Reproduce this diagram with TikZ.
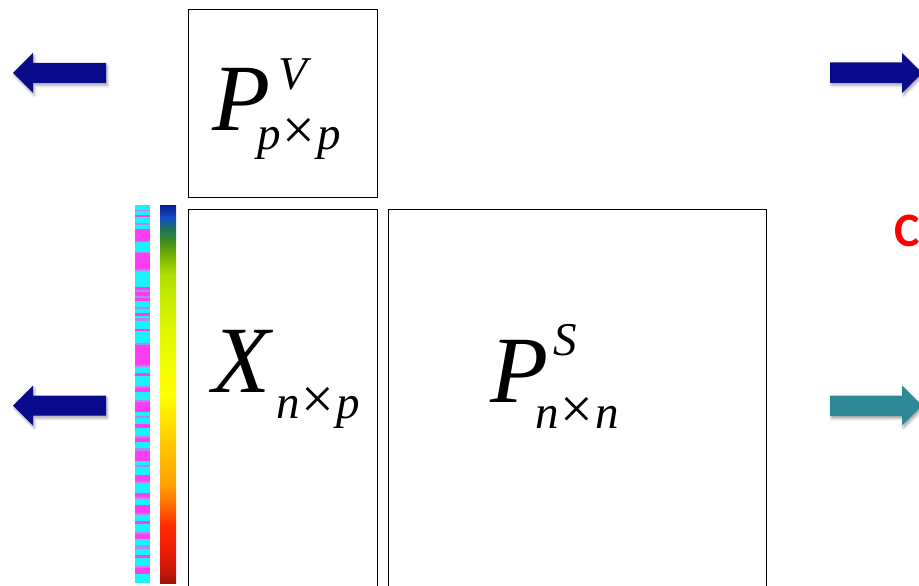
\documentclass[tikz,border=0pt]{standalone}
\usepackage{fontspec}
\setmainfont{Liberation Serif}
\newfontfamily\calib{Carlito}
\usetikzlibrary{shadows.blur}
\definecolor{navyarrow}{HTML}{0A0A8C}
\definecolor{tealarrow}{HTML}{2E8896}
\definecolor{stc}{HTML}{19F2FA}
\definecolor{stm}{HTML}{FF3CF5}
\definecolor{stp}{HTML}{A88CF0}
\pgfdeclareverticalshading{rainbowbar}{100bp}{%
rgb(0bp)=(0.60,0.07,0.03);
rgb(25bp)=(0.60,0.07,0.03);
rgb(26.3bp)=(0.75,0.09,0.03);
rgb(28.7bp)=(0.91,0.10,0.03);
rgb(32.65bp)=(1,0.17,0);
rgb(35.3bp)=(1,0.42,0);
rgb(37.95bp)=(1,0.63,0);
rgb(43.9bp)=(1,0.80,0);
rgb(49.85bp)=(1,1,0);
rgb(58.45bp)=(0.88,0.97,0);
rgb(65.75bp)=(0.69,0.88,0);
rgb(68bp)=(0.50,0.72,0);
rgb(70.35bp)=(0.23,0.54,0.13);
rgb(71.95bp)=(0.10,0.44,0.38);
rgb(73.3bp)=(0.06,0.31,0.78);
rgb(75bp)=(0.04,0.10,0.56);
rgb(100bp)=(0.04,0.10,0.56)}
\newcommand{\bigfnt}{\fontsize{95}{95}\selectfont\itshape}
\newcommand{\smlfnt}{\fontsize{47}{47}\selectfont\itshape}
\newcommand{\tms}{\kern2pt{\upshape\fontsize{58}{58}\selectfont×}\kern2pt}
\tikzset{
  mbox/.style={draw=black, line width=0.9pt},
  arrowshape/.style={blur shadow={shadow xshift=1.5pt, shadow yshift=-2.5pt, shadow blur radius=2.5pt, shadow opacity=35}},
  mathlabel/.style={inner sep=0pt, anchor=base west}
}
\begin{document}
\begin{tikzpicture}[x=1pt,y=-1pt]
\useasboundingbox (0,0) rectangle (919,586);
\clip (0,0) rectangle (919,586);
% boxes
\node[mbox, minimum width=189pt, minimum height=188pt, inner sep=0pt, anchor=north west] (pv) at (188,9) {};
\node[mbox, minimum width=189pt, minimum height=385pt, inner sep=0pt, anchor=north west] (x) at (188,209) {};
\node[mbox, minimum width=378pt, minimum height=385pt, inner sep=0pt, anchor=north west] (ps) at (388,209) {};
% labels
\node[mathlabel] (pvlab) at (212,130) {\rlap{\bigfnt P}\rlap{\hspace{66pt}\raisebox{40pt}{\smlfnt V}}\hspace{45pt}\raisebox{-19pt}{\smlfnt p\tms p}};
\node[mathlabel] (xlab) at (212,392) {\rlap{\bigfnt X}\hspace{64pt}\raisebox{-26pt}{\smlfnt n\tms p}};
\node[mathlabel] (pslab) at (490,402) {\rlap{\bigfnt P}\rlap{\hspace{63pt}\raisebox{47pt}{\smlfnt S}}\hspace{45pt}\raisebox{-26pt}{\smlfnt n\tms n}};
% red text
\node[inner sep=0pt, anchor=base west, text=red, font=\calib\bfseries\fontsize{48}{48}\selectfont] (ctext) at (894,246) {C};
% striped bar
\gdef\yy{205}
\foreach \h/\c in {5/stc,1/stp,4/stc,2/stm,6/stc,2/stp,4/stc,12/stm,1/stp,10/stc,
1/stp,16/stm,2/stp,16/stc,3/stm,2/stp,4/stm,2/stp,3/stm,6/stc,
2/stp,4/stc,3/stm,2/stc,3/stp,8/stc,2/stm,12/stc,2/stp,20/stm,
2/stp,6/stc,3/stm,10/stc,2/stp,4/stm,8/stc,2/stp,10/stm,4/stc,
2/stp,6/stc,4/stm,8/stc,2/stp,4/stm,6/stc,3/stp,10/stm,4/stc,
2/stp,8/stc,6/stm,2/stp,10/stc,4/stm,2/stp,6/stc,8/stm,2/stp,
6/stc,3/stm,8/stc,2/stp,5/stm,6/stc,4/stp,6/stc,3/stm,8/stc,2/stp,6/stm,9/stc}{
  \fill[\c] (135,\yy) rectangle (150,\yy+\h);
  \pgfmathsetmacro\tmp{\yy+\h}\xdef\yy{\tmp}
}
\node[inner sep=0pt, minimum width=15pt, minimum height=378pt, anchor=north west] (stripes) at (135,205) {};
% rainbow bar
\shade[shading=rainbowbar] (160,205) rectangle (176,583);
\node[inner sep=0pt, minimum width=16pt, minimum height=378pt, anchor=north west] (rainbow) at (160,205) {};
% arrows
\fill[navyarrow, arrowshape] (13,73) -- (33,53) -- (33,63) -- (106,63) -- (106,83) -- (33,83) -- (33,93) -- cycle;
\fill[navyarrow, arrowshape] (13,405.5) -- (33,385.5) -- (33,395.5) -- (106,395.5) -- (106,415.5) -- (33,415.5) -- (33,425.5) -- cycle;
\fill[navyarrow, arrowshape] (922,73) -- (902,53) -- (902,62.5) -- (830,62.5) -- (830,83) -- (902,83) -- (902,93) -- cycle;
\fill[tealarrow, arrowshape] (922,405.5) -- (902,385.5) -- (902,395.5) -- (830,395.5) -- (830,416) -- (902,416) -- (902,425.5) -- cycle;
\end{tikzpicture}
\end{document}
